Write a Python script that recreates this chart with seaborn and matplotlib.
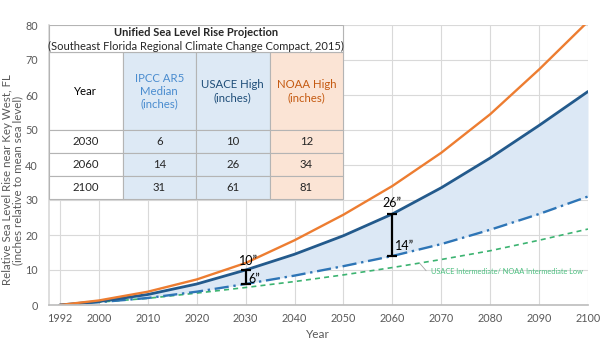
import matplotlib.pyplot as plt
import seaborn as sns
from matplotlib.patches import Rectangle

# projection curves (inches)
years = [1992, 2000, 2010, 2020, 2030, 2040, 2050, 2060, 2070, 2080, 2090, 2100]
noaa_high = [0, 1.3, 3.8, 7.3, 12, 18.5, 25.8, 34, 43.5, 54.5, 67.3, 81]
usace_high = [0, 1.0, 3.0, 6.0, 10, 14.5, 19.8, 26, 33.5, 42, 51.3, 61]
ipcc_median = [0, 0.8, 2.0, 3.8, 6, 8.4, 11.1, 14, 17.4, 21.5, 26, 31]
usace_int = [0, 0.8, 1.9, 3.4, 5, 6.7, 8.6, 10.7, 13, 15.5, 18.5, 21.7]

table_years = [2030, 2060, 2100]
bar_years = [2030, 2060]

orange = '#ed7d31'
navy = '#235a8c'
blue = '#2e75b6'
green = '#3cb371'
fill_blue = '#dce8f5'
gray = '#595959'

sns.set_theme(style="white")
plt.rcParams['font.family'] = ['Lato', 'DejaVu Sans']

fig = plt.figure(figsize=(6, 3.55), dpi=100)
ax = fig.add_axes([49/600, 50/355, 539/600, 280/355])

ax.fill_between(years, ipcc_median, usace_high, color=fill_blue, lw=0, zorder=1)
sns.lineplot(x=years, y=usace_int, color=green, lw=1.2, linestyle=(0, (3, 2.5)), ax=ax)
sns.lineplot(x=years, y=ipcc_median, color=blue, lw=1.7, linestyle=(0, (6, 2, 1, 2)), ax=ax)
sns.lineplot(x=years, y=usace_high, color=navy, lw=2.0, ax=ax)
sns.lineplot(x=years, y=noaa_high, color=orange, lw=1.7, ax=ax)

ax.set_xlim(1989.8, 2100)
ax.set_ylim(0, 80)
ax.set_xticks([1992] + list(range(2000, 2101, 10)))
ax.set_yticks(range(0, 81, 10))
ax.grid(True, color='#d9d9d9', lw=0.8)
ax.set_axisbelow(True)
ax.tick_params(colors=gray, labelsize=7.8, length=0)
ax.tick_params(axis='y', pad=8)
ax.tick_params(axis='x', pad=6)
for s in ['top', 'right']:
    ax.spines[s].set_visible(False)
ax.spines['left'].set_color('#d9d9d9')
ax.spines['bottom'].set_color('#bfbfbf')
ax.set_xlabel('')
ax.set_ylabel('')

# range markers at 2030 and 2060
for yr in bar_years:
    i = years.index(yr)
    lo, hi = ipcc_median[i], usace_high[i]
    ax.errorbar([yr], [(lo + hi) / 2], yerr=[(hi - lo) / 2], fmt='none',
                ecolor='black', elinewidth=1.6, capsize=3.3, capthick=1.6, zorder=6)
ax.text(2030.5, 10.9, '10”', ha='center', va='bottom', fontsize=9, color='black')
ax.text(2030.5, 7.3, '6”', ha='left', va='center', fontsize=9, color='black')
ax.text(2060.0, 27.3, '26”', ha='center', va='bottom', fontsize=9, color='black')
ax.text(2060.6, 16.9, '14”', ha='left', va='center', fontsize=9, color='black')

ax.plot([2065.6, 2066.9], [11.9, 9.8], color='#a6a6a6', lw=0.6)
ax.text(2067.9, 9.7, 'USACE Intermediate/ NOAA Intermediate Low', color='#4bbf7f',
        fontsize=5.3, ha='left', va='center')

# table
tw = 294 / 539
t_bottom = (305 - 199) / 280
t_top = (305 - 52) / 280
header = ['Year', 'IPCC AR5\nMedian\n(inches)', 'USACE High\n(inches)', 'NOAA High\n(inches)']
rows = [header]
for yr in table_years:
    i = years.index(yr)
    rows.append([str(yr), f'{ipcc_median[i]:g}', f'{usace_high[i]:g}', f'{noaa_high[i]:g}'])
col_fill = ['white', '#dde9f5', '#dde9f5', '#fbe4d5']
colours = [col_fill for _ in rows]

tbl = ax.table(cellText=rows, cellColours=colours, cellLoc='center',
               bbox=[0, t_bottom, tw, t_top - t_bottom])
tbl.set_zorder(5)
tbl.auto_set_font_size(False)
tbl.set_fontsize(8.2)
for (r, c), cell in tbl.get_celld().items():
    cell.set_edgecolor('#b4b4b4')
    cell.set_linewidth(0.8)
    cell.set_height(79 if r == 0 else 23)
hdr_colors = ['black', '#4a8ccf', '#1f4e79', '#c55a11']
for c, col in enumerate(hdr_colors):
    tbl[0, c].get_text().set_color(col)

ax.add_patch(Rectangle((0, t_top), tw, 1 - t_top, transform=ax.transAxes,
                       facecolor='white', edgecolor='#b4b4b4', lw=0.8, zorder=5))
ax.text(tw / 2, (305 - 32) / 280, 'Unified Sea Level Rise Projection', transform=ax.transAxes,
        ha='center', va='center', fontsize=8.0, fontweight='bold', zorder=6)
ax.text(tw / 2, (305 - 46) / 280, '(Southeast Florida Regional Climate Change Compact, 2015)',
        transform=ax.transAxes, ha='center', va='center', fontsize=8.0, zorder=6)

fig.text(13 / 600, 1 - 180 / 355,
         'Relative Sea Level Rise near Key West, FL\n(inches relative to mean sea level)',
         rotation=90, ha='center', va='center', multialignment='center',
         fontsize=8.3, linespacing=0.9, color=gray)
fig.text(318 / 600, 1 - 335 / 355, 'Year', ha='center', va='center', fontsize=8.5, color=gray)

fig.savefig('out.png', dpi=100)
